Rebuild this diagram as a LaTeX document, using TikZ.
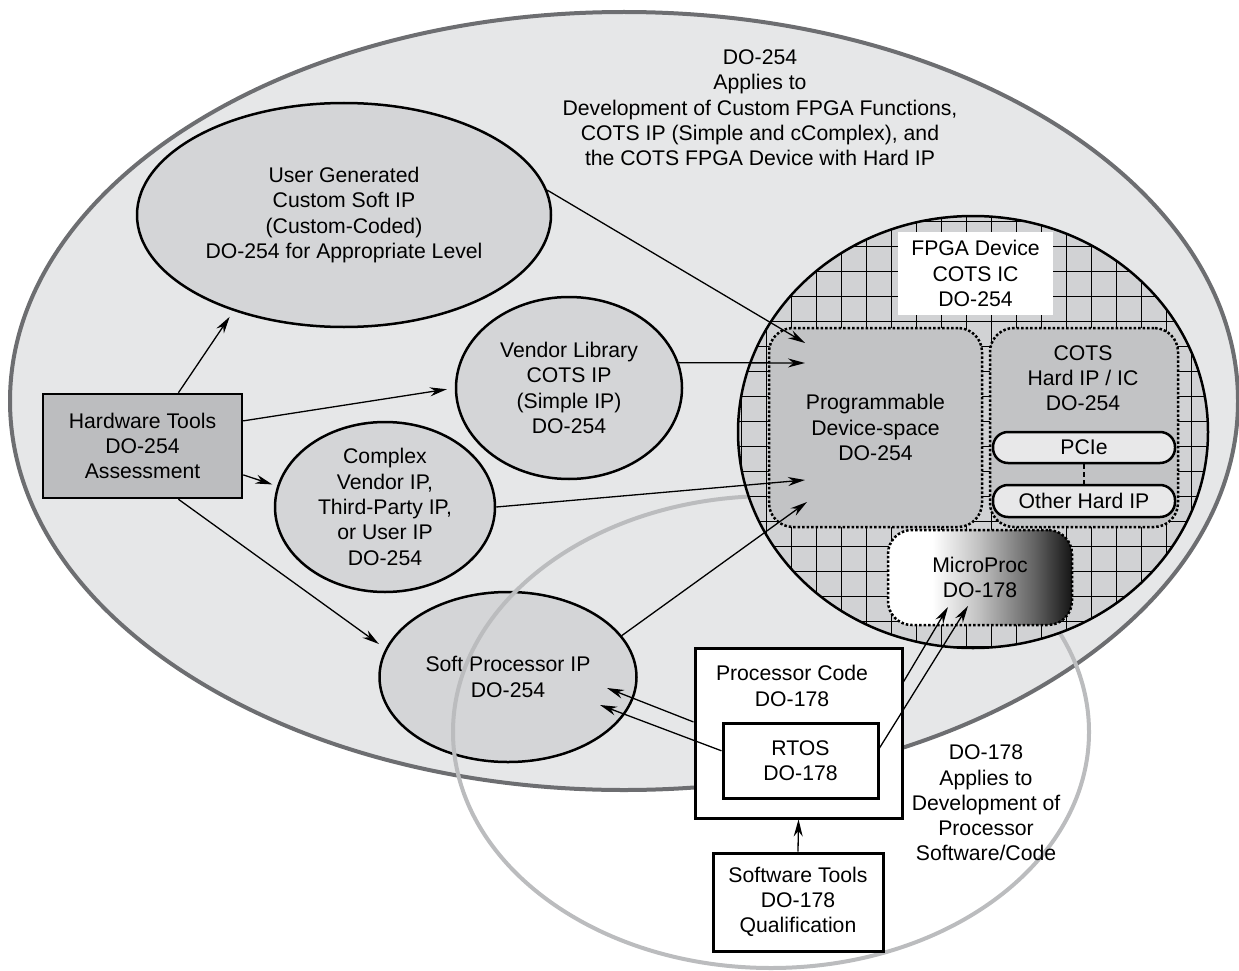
\documentclass[tikz,border=0pt]{standalone}
\usepackage{fontspec}
\setmainfont{Liberation Sans}
\usepackage{tikz}
\usetikzlibrary{calc}
\usetikzlibrary{arrows.meta}
\usetikzlibrary{shapes.geometric}

\definecolor{outerfill}{HTML}{E6E7E8}
\definecolor{outerline}{HTML}{6D6E71}
\definecolor{ringline}{HTML}{BBBCBE}
\definecolor{blobfill}{HTML}{D4D5D7}
\definecolor{toolfill}{HTML}{BCBDBF}
\definecolor{spacefill}{HTML}{C2C3C5}
\definecolor{fpgafill}{HTML}{D1D2D4}
\definecolor{pillfill}{HTML}{E8E8E9}

% path spans 25bp..75bp of the shading
\pgfdeclarehorizontalshading{microshade}{100bp}{color(0bp)=(white); color(37bp)=(white); color(50bp)=(black!25); color(65bp)=(black!62); color(75bp)=(black!92); color(100bp)=(black!92)}

\tikzset{
  ipblob/.style={ellipse, draw=black, line width=2.5pt, fill=blobfill, align=center, inner sep=0pt},
  toolbox/.style={rectangle, draw=black, line width=3pt, fill=white, align=center, inner sep=0pt},
  devspace/.style={rectangle, rounded corners=24pt, draw=black, dotted, line width=2.5pt, fill=spacefill, align=center, inner sep=0pt},
  hardpill/.style={rectangle, rounded corners=15pt, draw=black, line width=2.5pt, fill=pillfill, inner sep=0pt},
  blurb/.style={align=center, inner sep=0pt},
  flow/.style={line width=1.3pt, -{Stealth[length=17pt, width=9pt]}}
}

\begin{document}
\begin{tikzpicture}[x=1pt, y=-1pt, font=\fontsize{21.2pt}{25.3pt}\selectfont]
    \useasboundingbox (0,0) rectangle (1239,971);

    % DO-254 region
    \draw[fill=outerfill, draw=outerline, line width=4pt] (624,401) ellipse [x radius=614pt, y radius=389pt];
    \node[blurb] (scope254) at (760,108) {DO-254\\Applies to\\Development of Custom FPGA Functions,\\COTS IP (Simple and cComplex), and\\the COTS FPGA Device with Hard IP};

    \node[ipblob, minimum width=414pt, minimum height=224pt] (user) at (344,215) {User Generated\\Custom Soft IP\\(Custom-Coded)\\DO-254 for Appropriate Level};
    \node[ipblob, minimum width=226pt, minimum height=182pt] (vendor) at (569,388) {Vendor Library\\COTS IP\\(Simple IP)\\DO-254};
    \node[ipblob, inner ysep=-5pt, minimum width=220pt, minimum height=170pt] (complex) at (385,507) {Complex\\Vendor IP,\\Third-Party IP,\\or User IP\\DO-254};
    \node[ipblob, minimum width=257pt, minimum height=170pt] (soft) at (508,677) {Soft Processor IP\\DO-254};
    \node[rectangle, draw=black, line width=2.5pt, fill=toolfill, minimum width=199pt, minimum height=104pt, align=center] (hw) at (142.5,446) {Hardware Tools\\DO-254\\Assessment};

    % DO-178 region
    \draw[draw=ringline, line width=4pt] (771,732) ellipse [x radius=318pt, y radius=236pt];

    % FPGA device
    \begin{scope}
        \clip (973,432) ellipse [x radius=235pt, y radius=216pt];
        \fill[fpgafill] (973,432) ellipse [x radius=235pt, y radius=216pt];
        \foreach \gx in {0,...,19}
            \draw[line width=1.2pt] (741.7+25*\gx,200) -- (741.7+25*\gx,660);
        \foreach \gy in {0,...,17}
            \draw[line width=1.2pt] (730,221.7+25*\gy) -- (1220,221.7+25*\gy);
    \end{scope}
    \draw[line width=2.5pt] (973,432) ellipse [x radius=235pt, y radius=216pt];

    \node[fill=white, minimum width=155pt, minimum height=83pt, align=center] (fpgalbl) at (975.5,273.5) {FPGA Device\\COTS IC\\DO-254};
    \node[devspace, minimum width=213pt, minimum height=199pt] (prog) at (875.5,427.5) {Programmable\\Device-space\\DO-254};
    \node[devspace, minimum width=188pt, minimum height=199pt] (cots) at (1084,427.5) {};
    \node[blurb] (cotstxt) at (1083,378) {COTS\\Hard IP / IC\\DO-254};
    \node[hardpill, minimum width=182pt, minimum height=31pt] (pcie) at (1084,447.5) {PCIe};
    \node[hardpill, minimum width=182pt, minimum height=32pt] (other) at (1084,501) {Other Hard IP};
    \draw[line width=2pt, dash pattern=on 5pt off 3pt] (pcie) -- (other);
    \node[draw=black, dotted, line width=2.5pt, rounded corners=24pt, shade, shading=microshade, minimum width=184pt, minimum height=95pt, align=center] (micro) at (980,577.5) {MicroProc\\DO-178};

    % software side
    \node[toolbox, minimum width=207pt, minimum height=170pt] (code) at (798.5,733) {};
    \node[blurb] (codetxt) at (792,686) {Processor Code\\DO-178};
    \node[toolbox, minimum width=155pt, minimum height=75pt] (rtos) at (800.5,760.5) {RTOS\\DO-178};
    \node[toolbox, minimum width=170pt, minimum height=98pt] (sw) at (798,902) {Software Tools\\DO-178\\Qualification};
    \node[blurb] (scope178) at (986,803) {DO-178\\Applies to\\Development of\\Processor\\Software/Code};

    \coordinate (pin1) at (805,343);
    \coordinate (pin2) at (805,363);
    \coordinate (pin3) at (805,480);
    \coordinate (pin4) at (807,502);
    \coordinate (sin1) at (607,688);
    \coordinate (sin2) at (600,705);
    \coordinate (min1) at (948,607);
    \coordinate (min2) at (968,606);

    \draw[flow, shorten >=7pt] (hw.56) -- (user.221);
    \draw[flow, shorten >=8pt] (hw.14) -- (vendor.west);
    \draw[flow, shorten >=5pt] (hw.-16) -- (complex.169);
    \draw[flow, shorten >=8pt] (hw.-56) -- (soft.167);
    \draw[flow] (user.7) -- (pin1);
    \draw[flow] (vendor.13) -- (pin2);
    \draw[flow] (complex.east) -- (pin3);
    \draw[flow] (soft.20) -- (pin4);
    \draw[flow] (code.174) -- (sin1);
    \draw[flow] (rtos.173) -- (sin2);
    \draw[flow] (code.26) -- (min1);
    \draw[flow] (rtos.9) -- (min2);
    \draw[flow] (sw.north) -- (code.south);
\end{tikzpicture}
\end{document}
